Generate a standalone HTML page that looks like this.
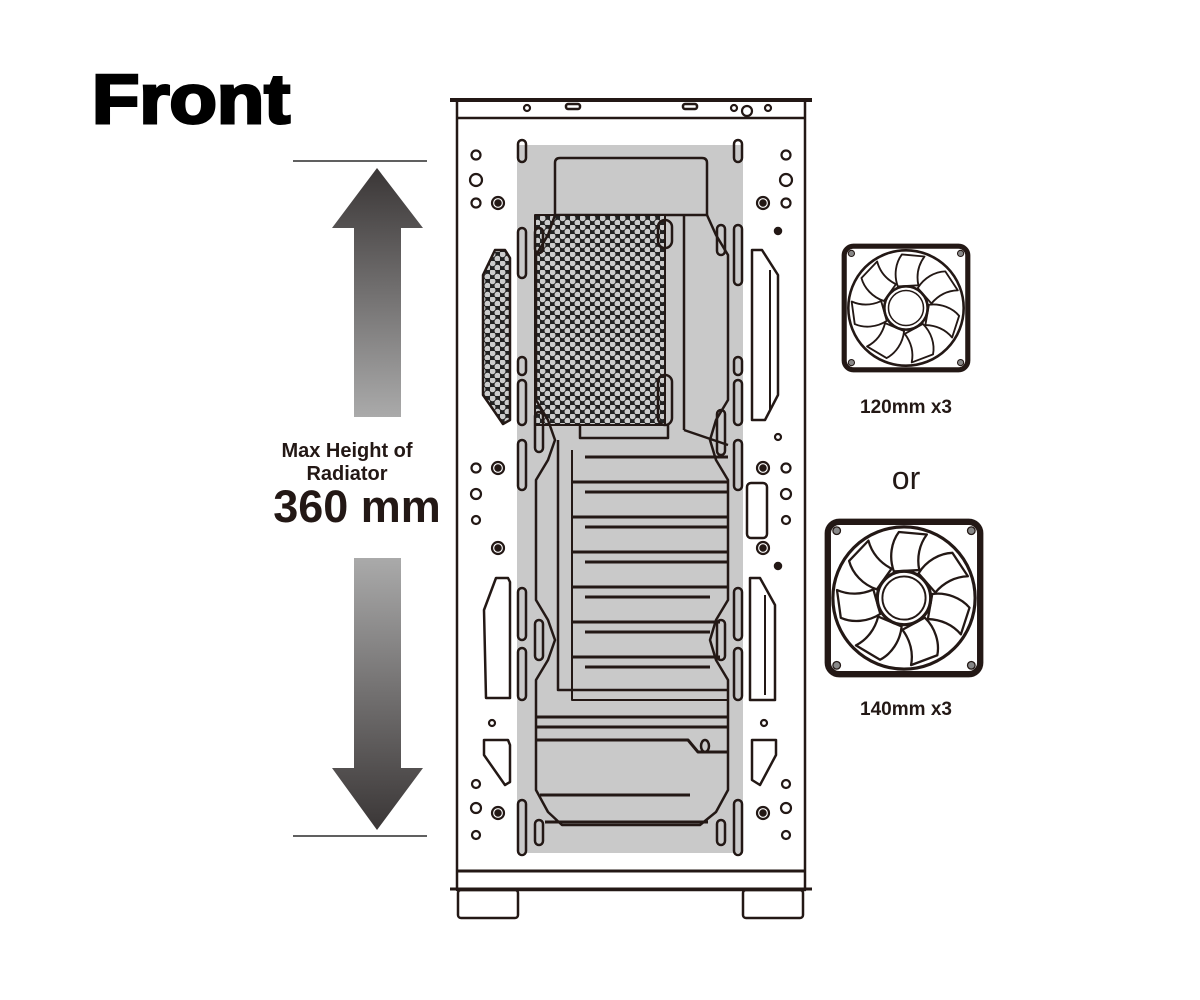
<!DOCTYPE html>
<html><head><meta charset="utf-8"><style>
html,body{margin:0;padding:0;background:#fff;width:1200px;height:1000px;overflow:hidden}
svg{display:block}
text{font-family:"Liberation Sans",Arial,sans-serif;fill:#231815}
</style></head><body>
<svg width="1200" height="1000" viewBox="0 0 1200 1000" xmlns="http://www.w3.org/2000/svg">
<defs>
<linearGradient id="gu" x1="0" y1="0" x2="0" y2="1"><stop offset="0" stop-color="#3a3636"/><stop offset="1" stop-color="#aaa"/></linearGradient>
<linearGradient id="gd" x1="0" y1="0" x2="0" y2="1"><stop offset="0" stop-color="#aaa"/><stop offset="1" stop-color="#3a3636"/></linearGradient>
<pattern id="mesh" width="10" height="9" patternUnits="userSpaceOnUse">
<rect width="10" height="9" fill="#222"/>
<circle cx="2.5" cy="2.2" r="3" fill="#ccc"/><circle cx="7.5" cy="6.7" r="3" fill="#ccc"/>
</pattern>
<g id="blade"><path d="M-8,-21 C-12,-32 -10,-44 -4,-52 L18,-50 C12,-42 10,-32 12,-22 Z" fill="#fff" stroke="#231815" stroke-width="1.8" stroke-linejoin="round"/></g>
<g id="fan">
<rect x="-60" y="-60" width="120" height="120" rx="9" fill="#fff" stroke="#231815" stroke-width="5"/>
<circle r="56" fill="none" stroke="#231815" stroke-width="2.5"/>
<use href="#blade" transform="rotate(0)"/><use href="#blade" transform="rotate(51.4)"/><use href="#blade" transform="rotate(102.8)"/><use href="#blade" transform="rotate(154.2)"/><use href="#blade" transform="rotate(205.6)"/><use href="#blade" transform="rotate(257)"/><use href="#blade" transform="rotate(308.4)"/>
<circle r="21" fill="#fff" stroke="#231815" stroke-width="2.5"/><circle r="17" fill="none" stroke="#231815" stroke-width="1.5"/>
<circle cx="-53" cy="-53" r="3" fill="#888" stroke="#231815"/><circle cx="53" cy="-53" r="3" fill="#888" stroke="#231815"/>
<circle cx="-53" cy="53" r="3" fill="#888" stroke="#231815"/><circle cx="53" cy="53" r="3" fill="#888" stroke="#231815"/>
</g>
</defs>

<text x="92" y="123" font-size="70" font-weight="bold" textLength="198" lengthAdjust="spacingAndGlyphs" style="fill:#000;stroke:#000;stroke-width:3">Front</text>

<!-- arrows -->
<line x1="293" y1="161" x2="427" y2="161" stroke="#000" stroke-width="1.2"/>
<line x1="293" y1="836" x2="427" y2="836" stroke="#000" stroke-width="1.2"/>
<path d="M377,168 L423,228 L401,228 L401,417 L354,417 L354,228 L332,228 Z" fill="url(#gu)"/>
<path d="M354,558 L401,558 L401,768 L423,768 L377,830 L332,768 L354,768 Z" fill="url(#gd)"/>
<text x="347" y="457" font-size="20" font-weight="bold" text-anchor="middle">Max Height of</text>
<text x="347" y="480" font-size="20" font-weight="bold" text-anchor="middle">Radiator</text>
<text x="357" y="522" font-size="45" font-weight="bold" text-anchor="middle">360 mm</text>

<!-- case -->
<g stroke="#231815" fill="none" stroke-width="2.5" stroke-linejoin="round">
<rect x="457" y="100" width="348" height="790" fill="#fff"/>
<line x1="450" y1="100" x2="812" y2="100" stroke-width="4"/>
<line x1="457" y1="118" x2="805" y2="118"/>
<line x1="457" y1="871" x2="805" y2="871" stroke-width="3"/>
<line x1="450" y1="889" x2="812" y2="889" stroke-width="3"/>
<rect x="458" y="890" width="60" height="28" rx="3"/>
<rect x="743" y="890" width="60" height="28" rx="3"/>
<rect x="517" y="145" width="226" height="708" fill="#c9c9c9" stroke="none"/>
<path d="M555,215 L555,163 Q555,158 560,158 L702,158 Q707,158 707,163 L707,215 Z" fill="#c9c9c9"/>
<path d="M535,215 L665,215 L665,425 L535,425 Z" fill="url(#mesh)" stroke-width="2"/>
<path d="M555,215 L548,235 L536,255 L536,400 L548,420 L555,440 L548,460 L536,480 L536,600 L548,620 L555,640 L548,660 L536,680 L536,790 L548,812 L562,825 L700,825 L716,812 L728,790 L728,680 L716,660 L710,640 L716,620 L728,600 L728,480 L716,460 L710,440 L716,420 L728,400 L728,255 L716,235 L707,215"/>
<line x1="684" y1="215" x2="684" y2="430"/>
<line x1="684" y1="430" x2="728" y2="445"/>
<path d="M580,425 L580,438 L668,438 L668,425"/>
<path d="M558,440 L558,690 L728,690"/>
<path d="M572,450 L572,700 L728,700" stroke-width="2"/>
<g stroke-width="3">
<line x1="585" y1="457" x2="728" y2="457"/><line x1="572" y1="482" x2="728" y2="482"/><line x1="585" y1="492" x2="728" y2="492"/>
<line x1="572" y1="517" x2="728" y2="517"/><line x1="585" y1="527" x2="728" y2="527"/>
<line x1="572" y1="552" x2="728" y2="552"/><line x1="585" y1="562" x2="728" y2="562"/>
<line x1="572" y1="587" x2="728" y2="587"/><line x1="585" y1="597" x2="710" y2="597"/>
<line x1="572" y1="622" x2="720" y2="622"/><line x1="585" y1="632" x2="710" y2="632"/>
<line x1="572" y1="657" x2="720" y2="657"/><line x1="585" y1="667" x2="710" y2="667"/>
<line x1="536" y1="717" x2="728" y2="717"/><line x1="536" y1="727" x2="728" y2="727"/>
<path d="M536,740 L688,740 L698,752 L728,752"/>
<line x1="540" y1="795" x2="690" y2="795"/>
<line x1="545" y1="822" x2="708" y2="822"/>
</g>
<ellipse cx="705" cy="746" rx="4" ry="6"/>
<g stroke-width="2.5">
<rect x="518" y="140" width="8" height="22" rx="4"/><rect x="734" y="140" width="8" height="22" rx="4"/>
<rect x="518" y="228" width="8" height="50" rx="4"/><rect x="535" y="228" width="8" height="25" rx="4"/>
<rect x="518" y="357" width="8" height="18" rx="4"/><rect x="518" y="380" width="8" height="45" rx="4"/>
<rect x="518" y="440" width="8" height="50" rx="4"/><rect x="535" y="412" width="8" height="40" rx="4"/>
<rect x="658" y="220" width="14" height="28" rx="7"/><rect x="658" y="375" width="14" height="50" rx="7"/>
<rect x="717" y="225" width="8" height="30" rx="4"/><rect x="734" y="225" width="8" height="60" rx="4"/>
<rect x="734" y="357" width="8" height="18" rx="4"/><rect x="734" y="380" width="8" height="45" rx="4"/>
<rect x="717" y="410" width="8" height="45" rx="4"/><rect x="734" y="440" width="8" height="50" rx="4"/>
<rect x="518" y="588" width="8" height="52" rx="4"/><rect x="518" y="648" width="8" height="52" rx="4"/>
<rect x="535" y="620" width="8" height="40" rx="4"/>
<rect x="734" y="588" width="8" height="52" rx="4"/><rect x="734" y="648" width="8" height="52" rx="4"/>
<rect x="717" y="620" width="8" height="40" rx="4"/>
<rect x="518" y="800" width="8" height="55" rx="4"/><rect x="535" y="820" width="8" height="25" rx="4"/>
<rect x="734" y="800" width="8" height="55" rx="4"/><rect x="717" y="820" width="8" height="25" rx="4"/>
</g>
<path d="M495,250 L505,250 L510,258 L510,420 L503,424 L490,405 L483,395 L483,275 Z" fill="url(#mesh)"/>
<path d="M752,250 L762,250 L778,275 L778,395 L765,420 L752,420 Z" fill="#fff"/>
<line x1="770" y1="270" x2="770" y2="410" stroke-width="2"/>
<path d="M496,578 L508,578 L510,582 L510,698 L486,698 L484,610 Z" fill="#fff"/>
<path d="M750,578 L760,578 L775,605 L775,700 L750,700 Z" fill="#fff"/>
<line x1="765" y1="595" x2="765" y2="695" stroke-width="2"/>
<rect x="747" y="483" width="20" height="55" rx="4" fill="#fff"/>
<path d="M484,740 L508,740 L510,745 L510,782 L505,785 L484,755 Z" fill="#fff"/>
<path d="M752,740 L776,740 L776,755 L760,785 L752,780 Z" fill="#fff"/>
<g stroke-width="2.2" fill="#fff">
<circle cx="476" cy="155" r="4.5"/><circle cx="476" cy="180" r="6"/><circle cx="476" cy="203" r="4.5"/>
<circle cx="498" cy="203" r="6"/><circle cx="786" cy="155" r="4.5"/><circle cx="786" cy="180" r="6"/><circle cx="786" cy="203" r="4.5"/><circle cx="763" cy="203" r="6"/>
<circle cx="476" cy="468" r="4.5"/><circle cx="476" cy="494" r="5"/><circle cx="476" cy="520" r="4"/><circle cx="498" cy="468" r="6"/>
<circle cx="786" cy="468" r="4.5"/><circle cx="786" cy="494" r="5"/><circle cx="786" cy="520" r="4"/><circle cx="763" cy="468" r="6"/>
<circle cx="498" cy="548" r="6"/><circle cx="763" cy="548" r="6"/>
<circle cx="476" cy="784" r="4"/><circle cx="476" cy="808" r="5"/><circle cx="476" cy="835" r="4"/><circle cx="498" cy="813" r="6"/>
<circle cx="786" cy="784" r="4"/><circle cx="786" cy="808" r="5"/><circle cx="786" cy="835" r="4"/><circle cx="763" cy="813" r="6"/>
<circle cx="492" cy="723" r="3"/><circle cx="764" cy="723" r="3"/><circle cx="778" cy="437" r="3"/>
<circle cx="527" cy="108" r="3"/><circle cx="734" cy="108" r="3"/><circle cx="768" cy="108" r="3"/><circle cx="747" cy="111" r="5"/>
</g>
<g fill="#231815"><circle cx="498" cy="203" r="2.5"/><circle cx="763" cy="203" r="2.5"/><circle cx="498" cy="468" r="2.5"/><circle cx="763" cy="468" r="2.5"/><circle cx="498" cy="548" r="2.5"/><circle cx="763" cy="548" r="2.5"/><circle cx="498" cy="813" r="2.5"/><circle cx="763" cy="813" r="2.5"/></g>
<rect x="566" y="104" width="14" height="5" rx="2"/><rect x="683" y="104" width="14" height="5" rx="2"/>
<circle cx="778" cy="231" r="3" fill="#231815"/><circle cx="778" cy="566" r="3" fill="#231815"/>
</g>

<g transform="translate(906,308) scale(1.03)"><use href="#fan"/></g>
<text x="906" y="413" font-size="19" font-weight="bold" text-anchor="middle">120mm x3</text>
<text x="906" y="489" font-size="32" text-anchor="middle">or</text>
<g transform="translate(904,598) scale(1.27)"><use href="#fan"/></g>
<text x="906" y="715" font-size="19" font-weight="bold" text-anchor="middle">140mm x3</text>
</svg>
</body></html>
